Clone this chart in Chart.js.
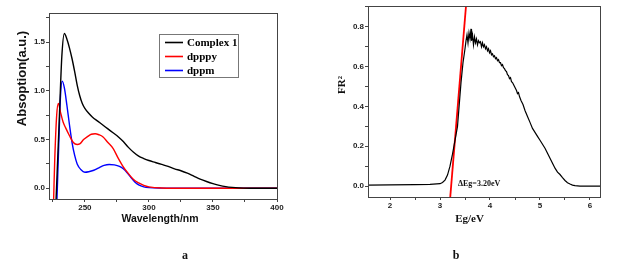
<!DOCTYPE html>
<html>
<head>
<meta charset="utf-8">
<script src="https://cdn.jsdelivr.net/npm/chart.js@4/dist/chart.umd.min.js"></script>
<style>
  body { margin: 0; background: #fff; }
  #wrap { position: relative; width: 622px; height: 264px; }
  canvas { position: absolute; top: 0; }
</style>
</head>
<body>
<div id="wrap">
  <canvas id="chartA" width="311" height="264" style="left:0"></canvas>
  <canvas id="chartB" width="311" height="264" style="left:311px"></canvas>
</div>
<script>
// panel a: absorption spectra, [wavelength nm, absorption]
const complex1 = [[227.5,-0.12],[230,0.7],[232,1.35],[234,1.59],[236,1.53],[238,1.44],[240,1.33],[242,1.2],[244,1.06],
  [246,0.95],[248,0.87],[250,0.82],[253,0.77],[256,0.73],[260,0.69],[264,0.65],[268,0.61],[272,0.57],[276,0.53],
  [280,0.48],[284,0.42],[288,0.37],[292,0.33],[296,0.305],[300,0.285],[305,0.265],[310,0.245],[315,0.225],[320,0.2],
  [325,0.18],[330,0.155],[335,0.125],[340,0.095],[345,0.07],[350,0.048],[355,0.03],[360,0.017],[365,0.009],
  [370,0.004],[380,0.001],[400,0]];
const dpppy = [[225.6,-0.12],[226.5,0.3],[228,0.75],[229.3,0.87],[231,0.78],[233,0.68],[235,0.62],[238,0.54],
  [241,0.47],[244,0.45],[246,0.455],[249,0.5],[252,0.53],[255,0.555],[258,0.56],[261,0.55],[264,0.53],[268,0.47],
  [272,0.41],[276,0.31],[280,0.22],[284,0.15],[288,0.09],[292,0.055],[296,0.03],[300,0.015],[310,0.003],[330,0],[400,0]];
const dppm = [[228.2,-0.12],[229.5,0.4],[231,0.95],[232.3,1.1],[234,1.03],[236,0.85],[238,0.65],[240,0.47],[242,0.34],
  [244,0.25],[247,0.19],[250,0.165],[253,0.17],[257,0.185],[261,0.21],[265,0.235],[269,0.245],[273,0.24],[277,0.225],
  [280,0.2],[283,0.16],[286,0.11],[289,0.065],[292,0.035],[296,0.015],[300,0.007],[310,0.002],[330,0],[400,0]];
const seriesA = ['Complex 1', 'dpppy', 'dppm'];

// panel b: FR^2 vs Eg, [eV, FR^2]
const fr2 = [[1.56,0.005],[2.0,0.006],[2.5,0.007],[2.8,0.008],[3.0,0.012],[3.05,0.018],[3.1,0.03],[3.15,0.055],
  [3.2,0.1],[3.25,0.16],[3.3,0.23],[3.35,0.3],[3.42,0.52],[3.46,0.62],[3.5,0.69],[3.52,0.73],[3.54,0.76],[3.56,0.72],
  [3.58,0.77],[3.6,0.74],[3.62,0.79],[3.63,0.73],[3.65,0.76],[3.67,0.71],[3.69,0.75],[3.71,0.72],[3.73,0.74],
  [3.75,0.71],[3.77,0.73],[3.79,0.72],[3.81,0.725],[3.83,0.7],[3.85,0.72],[3.87,0.7],[3.89,0.71],[3.91,0.69],
  [3.93,0.7],[3.95,0.68],[3.97,0.69],[3.99,0.67],[4.01,0.68],[4.03,0.66],[4.05,0.665],[4.07,0.65],[4.09,0.655],
  [4.11,0.64],[4.13,0.645],[4.15,0.63],[4.17,0.635],[4.19,0.62],[4.21,0.62],[4.23,0.605],[4.25,0.61],[4.27,0.595],
  [4.29,0.59],[4.31,0.58],[4.33,0.575],[4.35,0.56],[4.37,0.555],[4.39,0.54],[4.41,0.545],[4.43,0.525],[4.45,0.52],
  [4.47,0.51],[4.49,0.5],[4.51,0.49],[4.53,0.48],[4.55,0.465],[4.57,0.47],[4.59,0.45],[4.62,0.43],[4.66,0.41],
  [4.7,0.38],[4.75,0.35],[4.8,0.32],[4.85,0.29],[4.9,0.27],[4.95,0.25],[5.0,0.23],[5.05,0.21],[5.1,0.19],
  [5.15,0.165],[5.2,0.14],[5.25,0.115],[5.3,0.09],[5.35,0.07],[5.4,0.058],[5.45,0.042],[5.5,0.028],[5.55,0.017],
  [5.6,0.01],[5.65,0.005],[5.7,0.002],[5.8,0],[6.2,0]];
const tangent = [[3.205,-0.055],[3.52,0.905]];
const gapLabel = 'ΔEg=3.20eV';

const toXY = arr => arr.map(p => ({ x: p[0], y: p[1] }));
const sans = 'Liberation Sans, Arial, sans-serif';
const serif = 'Liberation Serif, Times New Roman, serif';
const frameColor = '#444';

// frame around plot area + extra texts
function framePlugin(extra) {
  return {
    id: 'frame',
    afterDraw(chart) {
      const { ctx, chartArea: a } = chart;
      ctx.save();
      ctx.strokeStyle = frameColor;
      ctx.lineWidth = 1;
      ctx.strokeRect(a.left + 0.5, a.top + 0.5, a.right - a.left, a.bottom - a.top);
      ctx.restore();
      extra(chart, ctx);
    }
  };
}

function tickCb(every, digits) {
  return function (v) {
    const r = v / every;
    return Math.abs(r - Math.round(r)) < 1e-6 ? v.toFixed(digits) : '';
  };
}

function axis(min, max, step, every, digits, fitFn) {
  return {
    type: 'linear', min: min, max: max,
    grid: { drawOnChartArea: false, drawTicks: true, tickLength: 3, color: frameColor },
    border: { display: true, color: frameColor },
    ticks: { stepSize: step, includeBounds: false, autoSkip: false, maxRotation: 0, padding: 1,
      color: '#222', font: { family: sans, size: 8, weight: 'bold' }, callback: tickCb(every, digits) },
    afterFit: fitFn
  };
}

// Panel a
const colorsA = ['#000000', '#ff0000', '#0000ff'];
new Chart(document.getElementById('chartA'), {
  type: 'line',
  data: {
    datasets: [complex1, dpppy, dppm].map((d, i) => ({
      label: seriesA[i], data: toXY(d), borderColor: colorsA[i], borderWidth: 1.4,
      pointRadius: 0, cubicInterpolationMode: 'monotone', fill: false
    }))
  },
  options: {
    responsive: false, animation: false,
    layout: { padding: { top: 13, right: 34, left: 0, bottom: 0 } },
    plugins: { legend: { display: false }, tooltip: { enabled: false } },
    scales: {
      x: axis(222, 400, 25, 50, 0, s => { s.height = 65; }),
      y: axis(-0.11, 1.8, 0.25, 0.5, 1, s => { s.width = 49; })
    }
  },
  plugins: [framePlugin((chart, ctx) => {
    ctx.save();
    // legend box
    ctx.fillStyle = '#fff';
    ctx.fillRect(159, 34, 79, 43);
    ctx.strokeStyle = '#777';
    ctx.lineWidth = 1;
    ctx.strokeRect(159.5, 34.5, 79, 43);
    ctx.font = 'bold 11px ' + serif;
    ctx.textBaseline = 'middle';
    chart.data.datasets.forEach((ds, i) => {
      const y = 42.5 + i * 14;
      ctx.strokeStyle = ds.borderColor;
      ctx.lineWidth = 1.6;
      ctx.beginPath(); ctx.moveTo(165, y); ctx.lineTo(183, y); ctx.stroke();
      ctx.fillStyle = '#000';
      ctx.fillText(ds.label, 187, y + 0.5);
    });
    // axis titles
    ctx.fillStyle = '#111';
    ctx.textAlign = 'center';
    ctx.textBaseline = 'alphabetic';
    ctx.font = 'bold 10.5px ' + sans;
    ctx.fillText('Wavelength/nm', 160, 222);
    ctx.save();
    ctx.translate(26, 78.5);
    ctx.rotate(-Math.PI / 2);
    ctx.font = 'bold 13px ' + sans;
    ctx.fillText('Absoption(a.u.)', 0, 0);
    ctx.restore();
    ctx.font = 'bold 12px ' + serif;
    ctx.fillText('a', 185, 259);
    ctx.restore();
  })]
});

// Panel b
new Chart(document.getElementById('chartB'), {
  type: 'line',
  data: {
    datasets: [
      { label: 'FR2', data: toXY(fr2), borderColor: '#000', borderWidth: 1.2, pointRadius: 0, tension: 0, fill: false },
      { label: 'fit', data: toXY(tangent), borderColor: '#ff0000', borderWidth: 1.8, pointRadius: 0, tension: 0, fill: false }
    ]
  },
  options: {
    responsive: false, animation: false,
    layout: { padding: { top: 6, right: 22, left: 0, bottom: 0 } },
    plugins: { legend: { display: false }, tooltip: { enabled: false } },
    scales: {
      x: axis(1.56, 6.2, 0.5, 1, 0, s => { s.height = 67; }),
      y: axis(-0.055, 0.905, 0.1, 0.2, 1, s => { s.width = 57; })
    }
  },
  plugins: [framePlugin((chart, ctx) => {
    ctx.save();
    ctx.fillStyle = '#111';
    ctx.textAlign = 'center';
    ctx.font = 'bold 11px ' + serif;
    ctx.fillText('Eg/eV', 158.5, 222);
    ctx.save();
    ctx.translate(34, 85);
    ctx.rotate(-Math.PI / 2);
    ctx.fillText('FR²', 0, 0);
    ctx.restore();
    ctx.font = 'bold 12px ' + serif;
    ctx.fillText('b', 145, 259);
    ctx.font = 'bold 8px ' + serif;
    ctx.textAlign = 'left';
    ctx.fillText(gapLabel, 147, 186);
    ctx.restore();
  })]
});
</script>
</body>
</html>
